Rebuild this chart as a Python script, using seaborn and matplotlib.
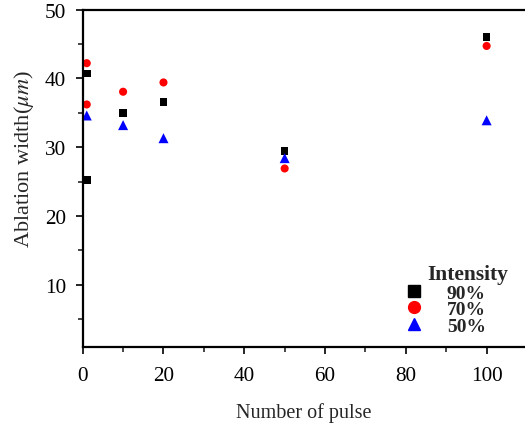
import matplotlib
matplotlib.use("Agg")
import matplotlib.pyplot as plt
import seaborn as sns
import pandas as pd
from matplotlib.ticker import MultipleLocator

# Data
x_90 = [1, 1, 10, 20, 50, 100]
y_90 = [40.7, 25.2, 35.0, 36.6, 29.4, 46.0]
x_70 = [1, 1, 10, 20, 50, 100]
y_70 = [42.2, 36.2, 38.05, 39.4, 26.9, 44.7]
x_50 = [1, 10, 20, 50, 100]
y_50 = [34.6, 33.2, 31.3, 28.4, 33.9]
labels = ["90%", "70%", "50%"]
colors = ["#000000", "#ff0000", "#0000ff"]
markers = ["s", "o", "^"]
marker_area = [30, 34, 52]

df = pd.concat([
    pd.DataFrame({"pulse": x_90, "width": y_90, "Intensity": labels[0]}),
    pd.DataFrame({"pulse": x_70, "width": y_70, "Intensity": labels[1]}),
    pd.DataFrame({"pulse": x_50, "width": y_50, "Intensity": labels[2]}),
])

sns.set_style("white")
plt.rcParams["font.family"] = ["Liberation Serif", "DejaVu Serif"]
plt.rcParams["mathtext.fontset"] = "stix"

fig = plt.figure(figsize=(5.25, 4.27), dpi=100)
ax = fig.add_axes([82.7 / 525, (427 - 347.7) / 427, (525 - 82.7) / 525, (347.7 - 10.5) / 427])

sns.scatterplot(data=df, x="pulse", y="width", hue="Intensity", style="Intensity",
                size="Intensity", hue_order=labels, style_order=labels, size_order=labels,
                palette=dict(zip(labels, colors)), markers=dict(zip(labels, markers)),
                sizes=dict(zip(labels, marker_area)),
                edgecolor="none", ax=ax, legend=False, clip_on=False)

ax.set_xlim(0, 109.5)
ax.set_ylim(1, 50)
ax.xaxis.set_major_locator(MultipleLocator(20))
ax.xaxis.set_minor_locator(MultipleLocator(10))
ax.yaxis.set_major_locator(MultipleLocator(10))
ax.yaxis.set_minor_locator(MultipleLocator(5))
ax.tick_params(which="major", direction="out", length=5, width=1.2, labelsize=15.3,
               bottom=True, left=True, colors="black")
ax.tick_params(axis="x", which="major", pad=9)
ax.tick_params(axis="y", which="major", pad=7)
ax.tick_params(which="minor", direction="out", length=3.5, width=1.2, bottom=True, left=True)
for s in ["left", "bottom", "top"]:
    ax.spines[s].set_linewidth(1.6)
    ax.spines[s].set_color("black")
ax.spines["right"].set_visible(False)

ax.set_xlabel("Number of pulse", fontsize=14.5, labelpad=12)
ax.set_ylabel(r"Ablation width($\mu m$)", fontsize=16)
ax.yaxis.set_label_coords(-0.105, 0.56)

handles = [plt.Line2D([], [], linestyle="none", marker=m, color=c, markersize=8.5)
           for m, c in zip(markers, colors)]
leg = fig.legend(handles, labels, frameon=False,
                 loc="upper left", bbox_to_anchor=(404 / 525, 1 - 285 / 427),
                 bbox_transform=fig.transFigure,
                 prop={"weight": "bold", "size": 14}, handletextpad=1.2,
                 labelspacing=-0.05, borderpad=0, borderaxespad=0, handlelength=1.0)
fig.text(468 / 525, 1 - 280 / 427, "Intensity", ha="center", va="baseline",
         fontsize=15.5, fontweight="bold")

fig.savefig("out.png", dpi=100)
